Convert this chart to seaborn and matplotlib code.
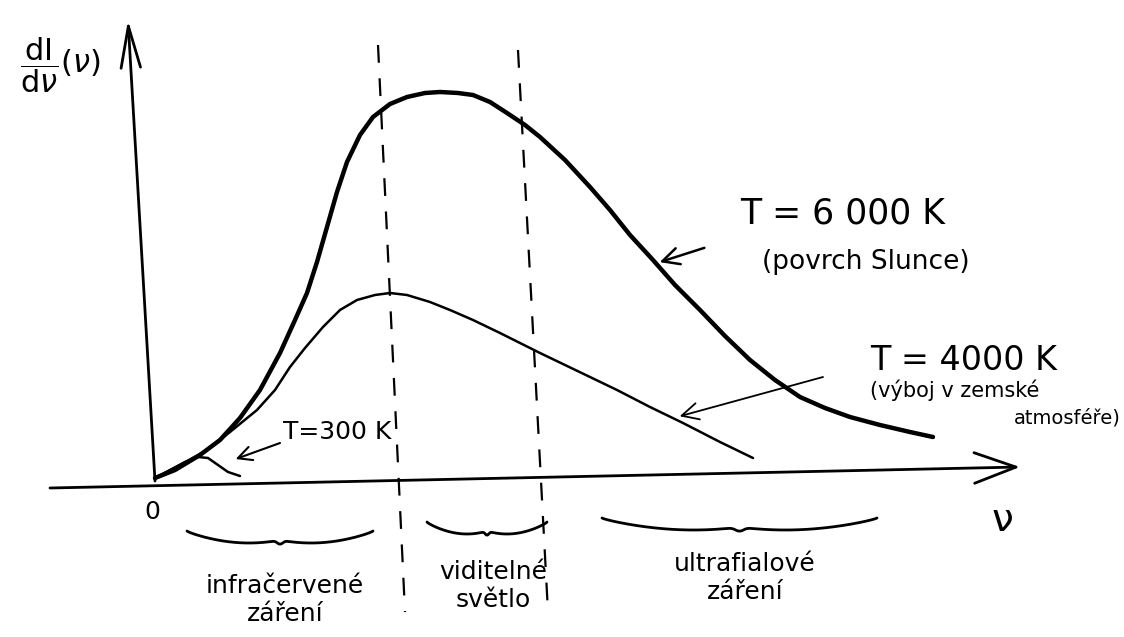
import numpy as np
import pandas as pd
import seaborn as sns
import matplotlib.pyplot as plt

# Planckovy křivky (ručně odečteno z náčrtu, libovolné jednotky)
nu_6000 = [0, 20, 45, 65, 85, 105, 125, 140, 152, 162, 172, 182, 192, 205, 218,
           235, 252, 270, 285, 303, 318, 335, 352, 370, 385, 410, 435, 455, 475,
           498, 520, 545, 570, 595, 620, 645, 670, 695, 725, 755, 778]
I_6000 = [0, 8, 23, 38, 60, 88, 125, 158, 185, 216, 251, 286, 316, 343, 361,
          374, 381, 385, 386, 385, 383, 376, 365, 353, 341, 318, 291, 268, 243,
          218, 193, 168, 142, 118, 98, 81, 70, 61, 53, 46, 41]

nu_4000 = [0, 25, 52, 75, 102, 120, 135, 150, 168, 185, 202, 220, 235, 252, 275,
           295, 318, 345, 365, 385, 410, 435, 462, 495, 528, 565, 598]
I_4000 = [0, 13, 28, 46, 68, 88, 111, 130, 151, 168, 178, 183, 185, 183, 176,
          168, 158, 145, 135, 125, 113, 101, 88, 71, 55, 36, 20]

nu_300 = [0, 15, 30, 43, 53, 63, 73, 85]
I_300 = [0, 8, 16, 21, 20, 13, 6, 2]

# hranice oblastí spektra (čárkované čáry, horní a dolní konec)
border_nu = [[223, 250], [363, 393]]
border_I = [[433, -134], [428, -134]]

# složené závorky pod osou: (začátek, konec, výška)
braces = [(32, 218, -53), (272, 392, -44), (447, 722, -40)]
band_labels = ["infračervené\nzáření", "viditelné\nsvětlo", "ultrafialové\nzáření"]
band_pos = [(130, -122), (338, -108), (590, -100)]

df = pd.concat([
    pd.DataFrame({"nu": nu_6000, "I": I_6000, "T": "6000 K"}),
    pd.DataFrame({"nu": nu_4000, "I": I_4000, "T": "4000 K"}),
    pd.DataFrame({"nu": nu_300, "I": I_300, "T": "300 K"}),
])

sns.set_style("white")
plt.rcParams['font.family'] = ['DejaVu Sans']
plt.rcParams['text.color'] = 'black'

fig = plt.figure(figsize=(11.24, 6.37), dpi=100)
ax = fig.add_axes([0, 0, 1, 1])
ax.set_xlim(-155, 969)
ax.set_ylim(-159, 478)
ax.axis("off")

# křivky
widths = {"6000 K": 3.2, "4000 K": 1.8, "300 K": 1.8}
for t, g in df.groupby("T", sort=False):
    sns.lineplot(data=g, x="nu", y="I", ax=ax, color="black", lw=widths[t],
                 sort=False, estimator=None, legend=False,
                 solid_joinstyle="round", solid_capstyle="round")

# osy se šipkami
ax.annotate("", xy=(865, 11), xytext=(-105, -10),
            arrowprops=dict(arrowstyle="->,head_length=3.0,head_width=1.1",
                            lw=2, color="black", shrinkA=0, shrinkB=0))
ax.annotate("", xy=(-27, 458), xytext=(0, -3),
            arrowprops=dict(arrowstyle="->,head_length=3.0,head_width=0.7",
                            lw=2, color="black", shrinkA=0, shrinkB=0))

# čárkované hranice
for xs, ys in zip(border_nu, border_I):
    ax.plot(xs, ys, color="black", lw=1.6, ls=(0, (8, 7)))

# složené závorky
for x0, x1, y0 in braces:
    u = np.linspace(0, 1, 80)
    half = 12 * np.sin(0.75 * np.pi * u) ** 0.8 + 4 * np.exp(-((1 - u) / 0.04) ** 2)
    xm = (x0 + x1) / 2
    xs = np.concatenate([x0 + (xm - x0) * u, xm + (x1 - xm) * u])
    ys = np.concatenate([y0 - half, y0 - half[::-1]])
    ax.plot(xs, ys, color="black", lw=2, solid_joinstyle="round")

for txt, (x, y) in zip(band_labels, band_pos):
    ax.text(x, y, txt, ha="center", va="center", fontsize=18, linespacing=1.2)

# popisky křivek
ax.text(585, 265, "T = 6 000 K", fontsize=25, va="center")
ax.text(607, 216, "(povrch Slunce)", fontsize=19, va="center")
ax.annotate("", xy=(502, 215), xytext=(552, 231),
            arrowprops=dict(arrowstyle="->,head_length=1.2,head_width=0.6",
                            lw=1.8, color="black"))

ax.text(715, 118, "T = 4000 K", fontsize=24, va="center")
ax.text(715, 88, "(výboj v zemské", fontsize=15, va="center")
ax.text(966, 60, "atmosféře)", fontsize=14, va="center", ha="right")
ax.annotate("", xy=(522, 61), xytext=(668, 101),
            arrowprops=dict(arrowstyle="->,head_length=1.2,head_width=0.6",
                            lw=1.3, color="black", shrinkA=0))

ax.text(128, 46, "T=300 K", fontsize=18, va="center")
ax.annotate("", xy=(78, 18), xytext=(125, 35),
            arrowprops=dict(arrowstyle="->,head_length=1.0,head_width=0.5",
                            lw=1.5, color="black", shrinkA=0))

# popisky os
ax.text(-3, -34, "0", fontsize=18, ha="center", va="center")
ax.text(847, -42, "ν", fontsize=28, ha="center", va="center")
ax.text(-95, 413, r"$\dfrac{\mathrm{dI}}{\mathrm{d}\nu}(\nu)$", fontsize=22,
        ha="center", va="center")

fig.savefig("out.png", dpi=100)
